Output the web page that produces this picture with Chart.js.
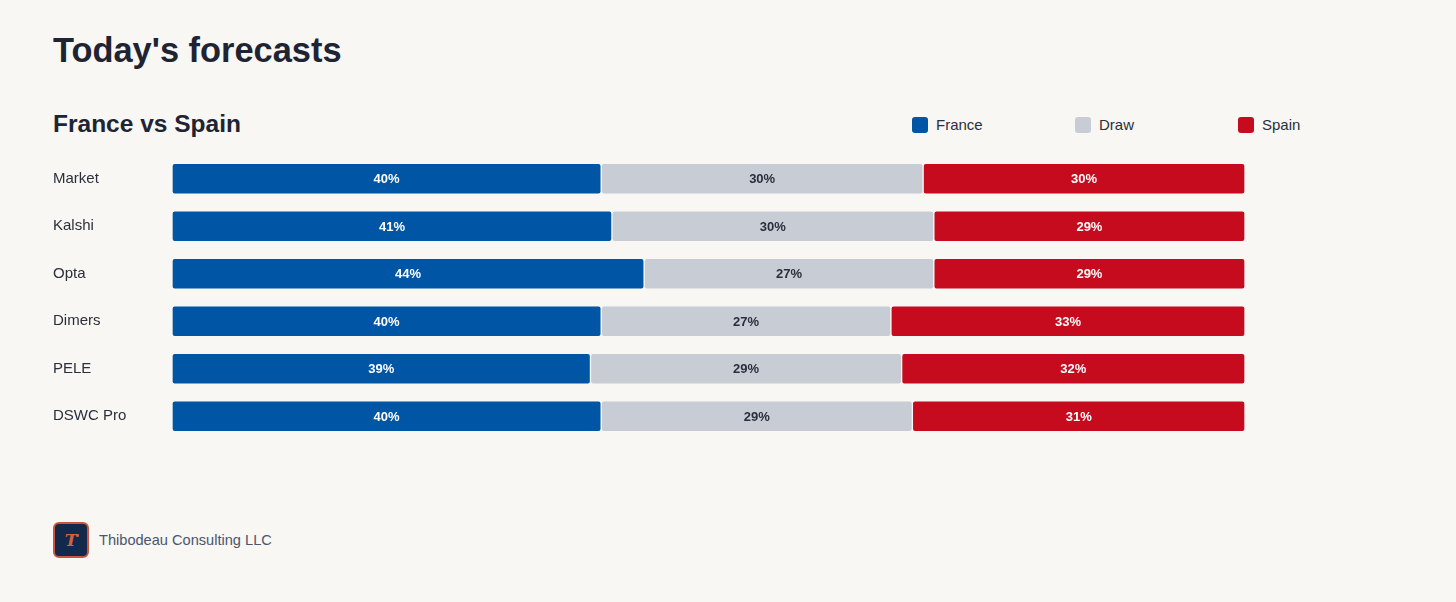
<!DOCTYPE html>
<html lang="en">
<head>
  <meta charset="UTF-8">
  <title>Today's forecasts</title>
  <script src="https://cdn.jsdelivr.net/npm/chart.js"></script>
  <style>
    html, body { margin: 0; padding: 0; }
    body { width: 1456px; height: 602px; background: #f8f7f3; font-family: "Liberation Sans", Arial, sans-serif; color: #1f2433; position: relative; overflow: hidden; }
    h1 { position: absolute; left: 53px; top: 31px; margin: 0; font-size: 34.4px; font-weight: bold; }
    h2 { position: absolute; left: 53px; top: 110px; margin: 0; font-size: 24.5px; font-weight: bold; }
    #legend { position: absolute; left: 912px; top: 116px; display: flex; }
    .item { width: 163px; display: flex; align-items: center; font-size: 15px; color: #2a2f3c; }
    .sw { width: 16px; height: 16px; border-radius: 3px; margin-right: 8px; }
    #wrap { position: absolute; left: 53px; top: 146px; width: 1192px; height: 303px; }
    #footer { position: absolute; left: 53px; top: 522px; display: flex; align-items: center; }
    .logo { position: relative; width: 32px; height: 32px; border: 2px solid #c8553d; border-radius: 6px; background: #13294b; color: #d0603f; font-family: "DejaVu Serif", serif; font-style: italic; font-weight: bold; font-size: 17px; display: flex; align-items: center; justify-content: center; }
    .dot { position: absolute; left: 21px; top: 10px; width: 3px; height: 3px; border-radius: 50%; background: #d0603f; }
    .brand { margin-left: 10px; font-size: 14.6px; color: #4a5570; }
  </style>
</head>
<body>
  <h1>Today's forecasts</h1>
  <h2>France vs Spain</h2>
  <div id="legend"></div>
  <div id="wrap"><canvas id="chart"></canvas></div>
  <div id="footer"><div class="logo">T<span class="dot"></span></div><div class="brand">Thibodeau Consulting LLC</div></div>

  <script>
    const sources = ['Market', 'Kalshi', 'Opta', 'Dimers', 'PELE', 'DSWC Pro'];
    const france = [40, 41, 44, 40, 39, 40];
    const draw = [30, 30, 27, 27, 29, 29];
    const spain = [30, 29, 29, 33, 32, 31];
    const seriesNames = ['France', 'Draw', 'Spain'];
    const seriesColors = ['#0055a4', '#c8ccd5', '#c60b1e'];
    const labelColors = ['#ffffff', '#2a2f3c', '#ffffff'];

    // legend
    const legend = document.getElementById('legend');
    seriesNames.forEach((n, i) => {
      legend.innerHTML += `<div class="item"><div class="sw" style="background:${seriesColors[i]}"></div>${n}</div>`;
    });

    // labels inside the bars
    const barLabels = {
      id: 'barLabels',
      afterDatasetsDraw(chart) {
        const ctx = chart.ctx;
        ctx.save();
        ctx.font = 'bold 13px "Liberation Sans", Arial, sans-serif';
        ctx.textAlign = 'center';
        ctx.textBaseline = 'middle';
        chart.data.datasets.forEach((ds, i) => {
          chart.getDatasetMeta(i).data.forEach((bar, j) => {
            const p = bar.getProps(['x', 'y', 'base'], true);
            ctx.fillStyle = labelColors[i];
            ctx.fillText(ds.data[j] + '%', (p.x + p.base) / 2, p.y + 1);
          });
        });
        ctx.restore();
      }
    };

    const rad = { topLeft: 3, topRight: 3, bottomLeft: 3, bottomRight: 3 };
    new Chart(document.getElementById('chart'), {
      type: 'bar',
      data: {
        labels: sources,
        datasets: [france, draw, spain].map((d, i) => ({
          label: seriesNames[i],
          data: d,
          backgroundColor: seriesColors[i],
          borderColor: '#f8f7f3',
          borderWidth: 1,
          borderSkipped: false,
          borderRadius: rad,
          barThickness: 31
        }))
      },
      options: {
        indexAxis: 'y',
        responsive: true,
        maintainAspectRatio: false,
        animation: false,
        layout: { padding: 0 },
        plugins: { legend: { display: false }, tooltip: { enabled: false } },
        scales: {
          x: { stacked: true, min: 0, max: 100, display: false },
          y: {
            stacked: true,
            grid: { display: false },
            border: { display: false },
            ticks: { crossAlign: 'far', color: '#2a2f3c', padding: 0, font: { size: 15, family: '"Liberation Sans", Arial, sans-serif' } },
            afterFit(s) { s.width = 119; }
          }
        }
      },
      plugins: [barLabels]
    });
  </script>
</body>
</html>
